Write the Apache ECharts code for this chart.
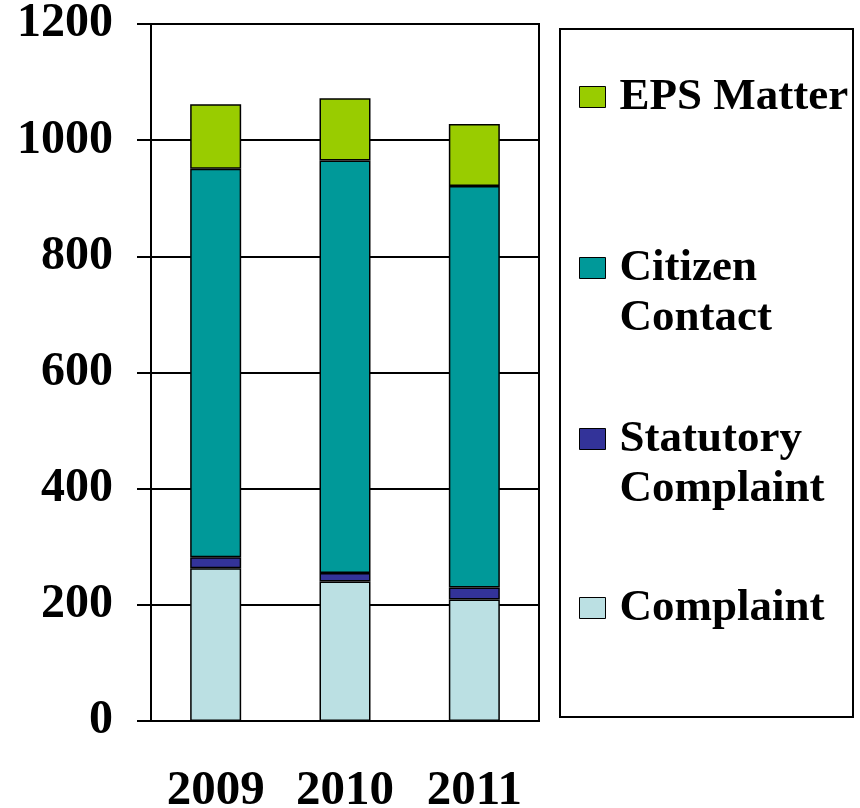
<!DOCTYPE html>
<html>
<head>
<meta charset="utf-8">
<script src="https://cdn.jsdelivr.net/npm/echarts@6/dist/echarts.min.js"></script>
<style>
  html, body { margin: 0; padding: 0; background: #fff; }
  #chart { width: 860px; height: 808px; }
</style>
</head>
<body>
<div id="chart"></div>
<script>
// years on the x axis
const years = ['2009', '2010', '2011'];
// stacked series, bottom to top
const complaint = [263, 240, 209];
const statutory = [19, 15, 21];
const citizen = [669, 710, 691];
const epsMatter = [111, 107, 107];
const yTicks = [0, 200, 400, 600, 800, 1000, 1200];

const font = '"Liberation Serif", "Times New Roman", serif';

const chart = echarts.init(document.getElementById('chart'));

function legendFor(name, top, twoLines) {
  return {
    data: [name],
    orient: 'vertical',
    left: 579,
    top: top,
    padding: 0,
    icon: 'rect',
    itemWidth: 26,
    itemHeight: 21,
    itemGap: 14,
    selectedMode: false,
    // blank first line keeps the swatch level with the first text line
    formatter: n => twoLines ? '\n' + n.replace(' ', '\n') : n,
    textStyle: {
      fontFamily: font, fontWeight: 'bold', fontSize: 45, color: '#000',
      lineHeight: 50, padding: [0, 0, 0, 9]
    },
    itemStyle: { borderColor: '#000', borderWidth: 1 }
  };
}

function bar(name, data, color) {
  return {
    name: name,
    type: 'bar',
    stack: 'total',
    barWidth: 51,
    data: data,
    itemStyle: { color: color, borderColor: '#000', borderWidth: 1.5 },
    emphasis: { disabled: true }
  };
}

chart.setOption({
  animation: false,
  backgroundColor: '#fff',
  grid: {
    left: 151, right: 321, top: 24, bottom: 87,
    outerBoundsMode: 'none',
    show: true, borderColor: '#000', borderWidth: 2
  },
  legend: [
    legendFor('EPS Matter', 72, false),
    legendFor('Citizen Contact', 193, true),
    legendFor('Statutory Complaint', 364, true),
    legendFor('Complaint', 583, false)
  ],
  graphic: [{
    type: 'rect',
    shape: { x: 560, y: 29, width: 293, height: 688 },
    style: { fill: 'none', stroke: '#000', lineWidth: 2 },
    silent: true
  }],
  xAxis: {
    type: 'category',
    data: years,
    axisLine: { lineStyle: { color: '#000', width: 2 } },
    axisTick: { length: 13, lineStyle: { color: '#000', width: 2 } },
    axisLabel: { margin: 46, fontFamily: font, fontWeight: 'bold', fontSize: 49, color: '#000' },
    splitLine: { show: false }
  },
  yAxis: {
    type: 'value',
    min: yTicks[0],
    max: yTicks[yTicks.length - 1],
    interval: 200,
    axisLine: { show: true, lineStyle: { color: '#000', width: 2 } },
    axisTick: { show: true, length: 14, lineStyle: { color: '#000', width: 2 } },
    axisLabel: {
      margin: 38, fontFamily: font, fontWeight: 'bold', fontSize: 48, color: '#000',
      formatter: v => String(v)
    },
    splitLine: { show: true, lineStyle: { color: '#000', width: 2 } }
  },
  series: [
    bar('Complaint', complaint, '#BBE0E3'),
    bar('Statutory Complaint', statutory, '#333399'),
    bar('Citizen Contact', citizen, '#009999'),
    bar('EPS Matter', epsMatter, '#99CC00')
  ]
});
</script>
</body>
</html>
